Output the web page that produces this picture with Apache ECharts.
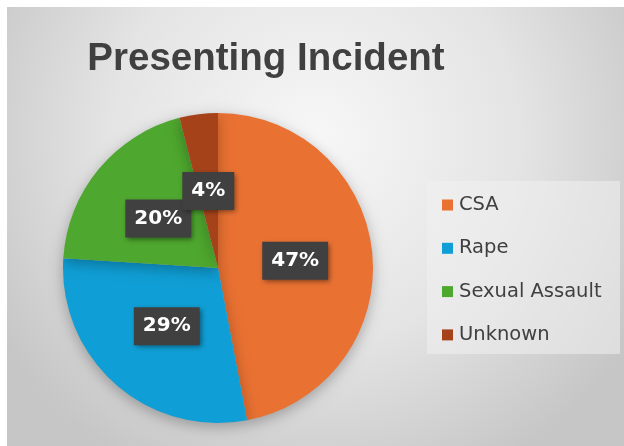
<!DOCTYPE html>
<html><head><meta charset="utf-8">
<script src="https://cdn.jsdelivr.net/npm/echarts@6/dist/echarts.min.js"></script>
<style>html,body{margin:0;padding:0;background:#fff}#c{width:624px;height:446px}</style>
</head><body><div id="c"></div>
<script>
const titleText = 'Presenting Incident';
const categories = ['CSA', 'Rape', 'Sexual Assault', 'Unknown'];
const values = [47, 29, 20, 4];
const colors = ['#E97132', '#0F9ED5', '#4EA72E', '#A5421A'];

const total = values.reduce((a, b) => a + b, 0);
let acc = 0;
const labelPoints = values.map(v => { const mid = acc + v / 2; acc += v; return { value: [0.5, mid], pct: v }; });

const chart = echarts.init(document.getElementById('c'));
chart.setOption({
  animation: false,
  graphic: [
    { type: 'rect', z: -10, silent: true, shape: { x: 7, y: 7, width: 617, height: 439 },
      style: { fill: new echarts.graphic.RadialGradient(0.5, 0.3, 0.85, [
        { offset: 0, color: '#F7F7F7' }, { offset: 0.55, color: '#E4E4E4' }, { offset: 1, color: '#C6C6C6' }]) } },
    { type: 'rect', z: -5, silent: true, shape: { x: 427, y: 181, width: 193, height: 173 },
      style: { fill: 'rgba(240,240,240,0.55)' } }
  ],
  title: {
    text: titleText, left: 261, top: 35, textAlign: 'center',
    textStyle: { fontFamily: 'Liberation Sans, Arial, sans-serif', fontSize: 38.5, fontWeight: 'bold', color: '#404040' }
  },
  legend: {
    orient: 'vertical', left: 437, top: 190, itemGap: 23.3, itemWidth: 11, itemHeight: 11, icon: 'rect',
    data: categories,
    textStyle: { fontFamily: 'DejaVu Sans, sans-serif', fontSize: 19.5, color: '#404040', padding: [0, 0, 0, 1] }
  },
  polar: { center: [218, 268], radius: 155 },
  angleAxis: { type: 'value', min: 0, max: total, startAngle: 90, clockwise: true, show: false },
  radiusAxis: { type: 'value', min: 0, max: 1, show: false },
  series: [{
    type: 'pie', center: [218, 268], radius: [0, 155], startAngle: 90, clockwise: true,
    data: categories.map((c, i) => ({ name: c, value: values[i], itemStyle: { color: colors[i] } })),
    itemStyle: { shadowBlur: 14, shadowColor: 'rgba(0,0,0,0.28)', shadowOffsetY: 4 },
    label: { show: false }, labelLine: { show: false },
    emphasis: { disabled: true }
  }, {
    type: 'scatter', coordinateSystem: 'polar', z: 10, symbolSize: 1,
    itemStyle: { color: 'rgba(0,0,0,0)', opacity: 1 },
    data: labelPoints,
    label: {
      show: true, position: 'inside', formatter: p => p.data.pct + '%',
      fontFamily: 'DejaVu Sans, sans-serif', fontSize: 20, fontWeight: 'bold', color: '#ffffff',
      backgroundColor: '#404040', padding: [9, 9, 9, 9], lineHeight: 20, opacity: 1,
      shadowBlur: 5, shadowColor: 'rgba(0,0,0,0.45)', shadowOffsetX: 2, shadowOffsetY: 2
    },
    emphasis: { disabled: true }
  }]
});
</script></body></html>
